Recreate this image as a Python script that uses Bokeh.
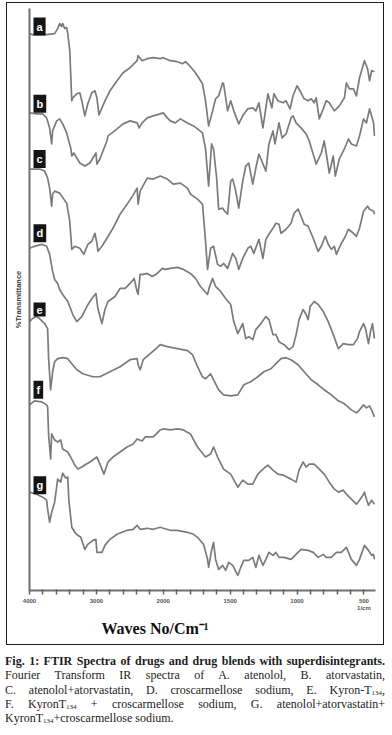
import numpy as np
from bokeh.plotting import figure
from bokeh.models import Range1d, FixedTicker, Label, Div, Title
from bokeh.layouts import column
from bokeh.embed import file_html
from bokeh.resources import INLINE

# ---------------- data (wavenumber cm-1, stacked %T) ----------------
spec_a = [(4000,555),(3955,554),(3744,554),(3624,555),(3579,560),(3549,565),(3519,562),(3504,565),(3474,560),(3444,561),(3428,555),(3398,538),(3368,488),(3353,491),(3293,495),(3248,496),(3218,488),(3173,473),(3128,485),(3068,496),(3022,498),(2992,491),(2962,474),(2917,481),(2872,488),(2797,498),(2691,508),(2601,516),(2496,521),(2391,528),(2376,533),(2316,528),(2240,530),(2150,531),(2045,530),(2000,531),(1947,528),(1895,527),(1857,525),(1834,527),(1797,522),(1759,516),(1707,505),(1684,488),(1661,463),(1631,478),(1609,490),(1586,493),(1556,506),(1549,505),(1519,478),(1496,488),(1473,478),(1436,465),(1406,473),(1368,480),(1331,481),(1308,478),(1285,486),(1255,461),(1233,481),(1218,495),(1188,481),(1173,495),(1143,488),(1105,486),(1082,488),(1052,480),(1030,493),(1000,503),(970,496),(947,490),(917,488),(894,490),(872,486),(857,491),(834,470),(804,480),(782,488),(759,486),(721,478),(684,483),(646,491),(631,506),(609,500),(579,500),(556,493),(533,511),(496,528),(473,520),(458,508),(443,518),(421,517)]
spec_b = [(4000,476),(3895,475),(3804,475),(3744,471),(3699,461),(3669,445),(3654,458),(3594,468),(3549,470),(3504,465),(3444,456),(3413,448),(3383,441),(3368,433),(3338,436),(3293,431),(3248,426),(3173,423),(3098,426),(3052,431),(3007,436),(2992,425),(2947,430),(2902,438),(2842,448),(2827,453),(2767,456),(2691,460),(2601,465),(2496,468),(2391,466),(2361,461),(2316,466),(2240,471),(2150,473),(2045,475),(2000,476),(1970,471),(1947,468),(1910,466),(1872,470),(1819,466),(1774,463),(1744,460),(1707,456),(1684,440),(1661,403),(1639,445),(1624,440),(1601,411),(1586,380),(1556,381),(1541,378),(1519,375),(1496,408),(1481,410),(1458,398),(1436,381),(1406,408),(1383,423),(1361,426),(1331,405),(1308,421),(1285,435),(1233,418),(1210,445),(1180,458),(1165,445),(1135,466),(1112,451),(1082,455),(1045,471),(1030,473),(1007,466),(970,461),(932,455),(909,448),(857,425),(819,436),(797,448),(782,436),(759,416),(729,433),(714,413),(684,430),(646,440),(616,450),(594,445),(556,443),(533,453),(503,470),(481,466),(458,480),(428,466),(421,453)]
spec_c = [(4000,420),(3850,420),(3774,418),(3729,411),(3699,401),(3669,383),(3654,395),(3624,398),(3549,396),(3444,386),(3398,368),(3368,340),(3323,343),(3248,341),(3188,335),(3128,345),(3068,348),(3022,356),(2992,346),(2977,338),(2917,343),(2842,351),(2752,361),(2646,375),(2541,385),(2451,394),(2391,401),(2376,385),(2346,398),(2240,411),(2150,410),(2045,413),(1970,410),(1925,405),(1872,406),(1819,401),(1797,395),(1744,390),(1707,385),(1684,348),(1669,320),(1646,341),(1624,343),(1594,325),(1571,323),(1549,326),(1519,321),(1481,336),(1458,331),(1436,320),(1406,331),(1368,341),(1346,343),(1323,336),(1285,350),(1255,331),(1233,350),(1210,355),(1180,361),(1158,366),(1135,365),(1120,356),(1082,360),(1045,366),(1022,376),(992,380),(970,373),(947,365),(917,363),(879,351),(842,338),(819,343),(789,353),(767,345),(744,340),(721,343),(706,335),(669,346),(646,351),(616,360),(579,356),(556,353),(533,361),(503,378),(473,383),(458,380),(428,378),(421,375)]
spec_d = [(4000,341),(3925,343),(3820,345),(3744,343),(3699,335),(3654,318),(3624,310),(3579,306),(3549,300),(3504,295),(3428,288),(3353,275),(3293,268),(3218,273),(3143,283),(3068,291),(3007,296),(2977,281),(2917,266),(2872,280),(2827,288),(2722,293),(2646,301),(2571,301),(2496,306),(2436,311),(2391,298),(2376,295),(2346,315),(2300,315),(2240,316),(2165,313),(2090,316),(2015,321),(1985,320),(1947,321),(1895,322),(1849,320),(1797,316),(1759,311),(1722,303),(1669,295),(1654,303),(1631,311),(1609,303),(1571,298),(1534,291),(1496,285),(1473,268),(1443,256),(1406,266),(1383,251),(1361,253),(1331,250),(1308,260),(1270,266),(1233,273),(1210,270),(1180,255),(1158,255),(1135,248),(1097,245),(1060,240),(1030,243),(1007,255),(985,270),(955,280),(932,275),(917,270),(902,283),(872,288),(842,285),(804,278),(767,268),(729,255),(691,241),(654,246),(616,245),(579,245),(548,251),(533,258),(503,266),(488,261),(466,246),(451,258),(436,266),(421,251)]
spec_e = [(4000,268),(3955,271),(3895,273),(3850,271),(3774,266),(3729,261),(3714,231),(3684,200),(3654,218),(3624,228),(3579,231),(3504,232),(3428,231),(3368,226),(3293,220),(3203,216),(3052,213),(2947,213),(2797,218),(2646,223),(2496,230),(2391,231),(2376,225),(2346,220),(2300,230),(2195,236),(2090,242),(2045,245),(1970,243),(1895,241),(1819,239),(1782,235),(1744,223),(1707,213),(1684,211),(1646,216),(1624,210),(1586,200),(1549,195),(1496,194),(1443,195),(1398,205),(1346,208),(1293,213),(1248,218),(1195,221),(1158,226),(1120,231),(1082,232),(1045,230),(992,225),(947,218),(894,210),(842,205),(797,200),(744,195),(691,189),(646,186),(594,180),(556,177),(533,180),(503,185),(481,182),(458,184),(443,180),(421,173)]
spec_f = [(4000,185),(3925,189),(3820,188),(3744,185),(3729,183),(3714,155),(3684,131),(3669,156),(3624,150),(3579,148),(3534,150),(3504,141),(3428,138),(3368,131),(3323,125),(3278,121),(3218,123),(3173,125),(3098,128),(2992,133),(2947,126),(2887,116),(2827,128),(2752,133),(2646,138),(2541,143),(2451,146),(2391,151),(2316,149),(2270,153),(2150,153),(2045,160),(2000,161),(1947,160),(1895,161),(1849,160),(1797,156),(1744,143),(1684,133),(1646,136),(1624,143),(1594,133),(1549,121),(1496,116),(1443,103),(1406,110),(1368,106),(1331,106),(1293,116),(1255,121),(1218,125),(1180,120),(1143,116),(1105,115),(1045,111),(1007,108),(985,120),(955,128),(932,123),(909,126),(872,126),(834,121),(797,116),(759,108),(721,101),(691,98),(654,100),(631,96),(594,91),(556,86),(533,90),(503,96),(496,98),(481,91),(466,85),(443,90),(421,86)]
spec_g = [(4000,98),(3895,96),(3804,93),(3744,90),(3729,81),(3699,68),(3669,78),(3624,88),(3579,111),(3534,108),(3504,117),(3459,112),(3428,113),(3413,91),(3368,63),(3323,58),(3278,55),(3233,53),(3173,41),(3128,46),(3052,50),(3007,51),(2992,38),(2917,38),(2872,45),(2797,51),(2691,56),(2541,60),(2451,61),(2391,65),(2346,61),(2240,62),(2150,61),(2045,63),(2000,62),(1947,60),(1895,60),(1819,58),(1774,56),(1744,53),(1699,46),(1669,31),(1661,23),(1639,40),(1624,48),(1609,31),(1586,21),(1556,25),(1534,20),(1511,28),(1481,25),(1443,15),(1421,23),(1398,30),(1361,30),(1331,33),(1308,23),(1285,35),(1255,25),(1233,31),(1210,38),(1180,35),(1158,38),(1135,33),(1097,33),(1045,31),(1007,36),(970,41),(917,40),(879,38),(842,33),(804,36),(782,33),(744,33),(706,38),(669,38),(631,43),(594,31),(556,25),(533,31),(496,45),(466,40),(443,35),(428,36),(421,31)]

curve_names = ["a", "b", "c", "d", "e", "f", "g"]
curve_label_levels = [562, 485, 430, 356, 280, 200, 105]
major_wavenumbers = [4000, 3000, 2000, 1500, 1000, 500]
major_labels = ["4000", "3000", "2000", "1500", "1000", "500\n1/cm"]
minor_wavenumbers = [3800, 3600, 3400, 3200, 2800, 2600, 2400, 2200,
                     1900, 1800, 1700, 1600, 1400, 1300, 1200, 1100,
                     900, 800, 700, 600]

SUB = '<span style="font-size:7px;vertical-align:-1px;line-height:0;">134</span>'
caption_lines = [
    "<b>Fig. 1: FTIR Spectra of drugs and drug blends with superdisintegrants.</b>",
    "Fourier Transform IR spectra of A. atenolol, B. atorvastatin,",
    "C. atenolol+atorvastatin, D. croscarmellose sodium, E. Kyron-T" + SUB + ",",
    "F. KyronT" + SUB + " + croscarmellose sodium, G. atenolol+atorvastatin+",
    "KyronT" + SUB + "+croscarmellose sodium.",
]


def axis_pos(w):
    """FTIR axis with 2x expansion below 2000 cm-1."""
    w = np.asarray(w, dtype=float)
    return np.where(w >= 2000, 4000 - w, 2000 + 2 * (2000 - w))


p = figure(width=376, height=641, x_range=Range1d(0, 5173), y_range=Range1d(0, 580),
           output_backend="svg", toolbar_location=None,
           min_border_left=22, min_border_right=10, min_border_top=5, min_border_bottom=56,
           margin=(2, 0, 0, 6))
p.background_fill_color = "white"
p.border_fill_color = "white"
p.outline_line_color = None
p.xgrid.visible = False
p.ygrid.visible = False
p.styles = {"border": "1.5px solid #1c1c1c", "box-sizing": "content-box"}

line_col = "#7b7b7b"
for spec in [spec_a, spec_b, spec_c, spec_d, spec_e, spec_f, spec_g]:
    wn = [v[0] for v in spec]
    tr = [v[1] for v in spec]
    p.line(axis_pos(wn), tr, line_color=line_col, line_width=1.7, line_join="round")

for name, lvl in zip(curve_names, curve_label_levels):
    p.add_layout(Label(x=0, y=lvl, text=name, x_offset=4, text_baseline="middle",
                       text_align="left", text_color="white", text_font_style="bold",
                       text_font_size="11px", text_font="Liberation Sans",
                       background_fill_color="#141414", padding=3))

# y axis
p.yaxis.ticker = FixedTicker(ticks=[])
p.yaxis.axis_label = "%Transmittance"
p.yaxis.axis_label_text_font = "Liberation Sans"
p.yaxis.axis_label_text_font_size = "7.5px"
p.yaxis.axis_label_text_font_style = "bold"
p.yaxis.axis_label_text_color = "#3a3a3a"
p.yaxis.axis_label_standoff = 7
p.yaxis.axis_line_color = "#707070"
p.yaxis.axis_line_width = 2

# x axis
major_u = [float(v) for v in axis_pos(major_wavenumbers)]
minor_u = [float(v) for v in axis_pos(minor_wavenumbers)]
p.xaxis.ticker = FixedTicker(ticks=major_u, minor_ticks=minor_u)
p.xaxis.major_label_overrides = {u: s for u, s in zip(major_u, major_labels)}
p.xaxis.axis_line_color = "#707070"
p.xaxis.axis_line_width = 2
p.xaxis.major_tick_line_color = "#606060"
p.xaxis.minor_tick_line_color = "#606060"
p.xaxis.major_tick_in = 1
p.xaxis.major_tick_out = 4
p.xaxis.minor_tick_in = 1
p.xaxis.minor_tick_out = 4
p.xaxis.major_tick_line_width = 1.5
p.xaxis.minor_tick_line_width = 1.5
p.xaxis.major_label_text_font = "Liberation Sans"
p.xaxis.major_label_text_font_size = "6px"
p.xaxis.major_label_text_font_style = "bold"
p.xaxis.major_label_text_color = "#555555"
p.xaxis.major_label_standoff = 3

p.add_layout(Title(text="Waves No/Cm\u207b\u00b9", align="left", offset=72, standoff=8,
                   text_font="Liberation Serif", text_font_size="16px",
                   text_font_style="bold", text_color="#111111"), "below")

rows = []
for i, ln in enumerate(caption_lines):
    last = "left" if i == len(caption_lines) - 1 else "justify"
    rows.append('<div style="text-align:justify;text-align-last:%s;height:14.3px;">%s</div>' % (last, ln))
cap = Div(text='<div style="font-family:\'Liberation Serif\';font-size:12px;line-height:14.3px;'
               'color:#1c1c1c;width:380px;">' + "".join(rows) + "</div>",
          width=380, margin=(9, 0, 0, 5))

layout = column(p, cap)
open("out.html", "w").write(file_html(layout, INLINE))
